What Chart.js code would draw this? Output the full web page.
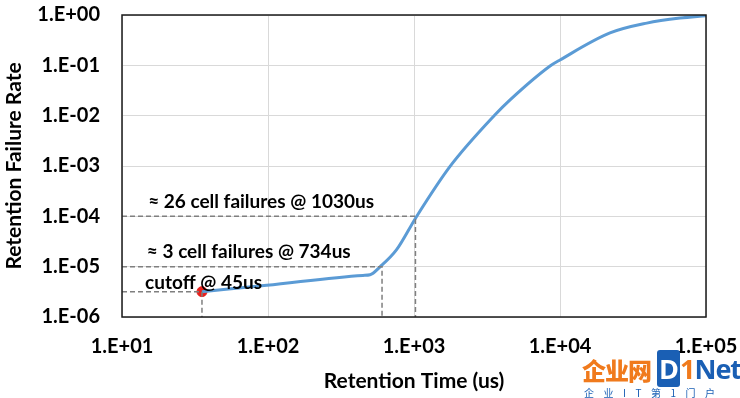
<!DOCTYPE html>
<html>
<head>
<meta charset="utf-8">
<script src="https://cdn.jsdelivr.net/npm/chart.js@4"></script>
<style>
  html, body { margin: 0; padding: 0; background: #fff; }
  #wrap { position: relative; width: 740px; height: 398px; overflow: hidden; }
  canvas { display: block; }
  .wm1 { position: absolute; left: 582px; top: 352px; font: 900 24px "Noto Sans CJK SC"; color: #f07a1c; letter-spacing: -1px; }
  .wm2 { position: absolute; left: 657px; top: 350px; font: bold 27px "Open Sans"; color: #1a5fb4; letter-spacing: -1px; }
  .wm2 .d { background: #1a5fb4; color: #fff; padding: 0 2px; border-radius: 3px; }
  .wm2 .one { color: #f07a1c; }
  .wm3 { position: absolute; left: 584px; top: 385px; font: 10px "Noto Sans CJK SC"; color: #1a5fb4; letter-spacing: 9.5px; }
</style>
</head>
<body>
<div id="wrap">
  <canvas id="c" width="740" height="398"></canvas>
  <div class="wm1">企业网</div>
  <div class="wm2"><span class="d">D</span><span class="one">1</span>Net</div>
  <div class="wm3">企业IT第1门户</div>
</div>
<script>
// ---- data ----
const curveX = [35.3, 98, 447, 500, 585, 760, 1032, 1766, 3590, 4550, 8550, 10000, 22000, 39300, 66400, 100000];
const curveY = [3.19e-6, 4.26e-6, 6.7e-6, 6.9e-6, 9.9e-6, 2.17e-5, 9.5e-5, 9.8e-4, 1.04e-2, 2.06e-2, 0.097, 0.128, 0.44, 0.69, 0.87, 0.97];

const cutoffX = 35.3, cutoffY = 3.19e-6;
const guide1X = [10, 1023, 1023];
const guide1Y = [1e-4, 1e-4, 1e-6];
const guide2X = [10, 604, 604];
const guide2Y = [1e-5, 1e-5, 1e-6];
const guide3X = [10, 35.3, 35.3];
const guide3Y = [3.19e-6, 3.19e-6, 1e-6];

const xTickValues = [10, 100, 1000, 10000, 100000];
const xTickLabels = ['1.E+01', '1.E+02', '1.E+03', '1.E+04', '1.E+05'];
const yTickValues = [1e-6, 1e-5, 1e-4, 1e-3, 1e-2, 1e-1, 1];
const yTickLabels = ['1.E-06', '1.E-05', '1.E-04', '1.E-03', '1.E-02', '1.E-01', '1.E+00'];

const annTexts = ['≈ 26 cell failures @ 1030us', '≈ 3 cell failures @ 734us', 'cutoff @ 45us'];
const annX = [15.1, 14.8, 14.4];
const annY = [1.95e-4, 2.0e-5, 4.8e-6];

const xTitle = 'Retention Time (us)';
const yTitle = 'Retention Failure Rate';

// ---- helpers ----
const pts = (xs, ys) => xs.map((x, i) => ({ x, y: ys[i] }));
const FONT = 'Lato, "Open Sans", sans-serif';
const guideStyle = { borderColor: '#7f7f7f', borderWidth: 1.5, borderDash: [5, 3], pointRadius: 0, fill: false, tension: 0 };

const boxPlugin = {
  id: 'box',
  afterDatasetsDraw(chart) {
    const { ctx, chartArea: a } = chart;
    ctx.save();
    ctx.strokeStyle = '#1a1a1a';
    ctx.lineWidth = 1.5;
    ctx.strokeRect(a.left, a.top, a.right - a.left, a.bottom - a.top);
    ctx.restore();
  }
};

const annPlugin = {
  id: 'ann',
  afterDraw(chart) {
    const { ctx, scales } = chart;
    ctx.save();
    ctx.font = 'bold 19px ' + FONT;
    ctx.fillStyle = '#000';
    ctx.textAlign = 'left';
    ctx.textBaseline = 'middle';
    annTexts.forEach((t, i) => {
      ctx.fillText(t, scales.x.getPixelForValue(annX[i]), scales.y.getPixelForValue(annY[i]));
    });
    ctx.restore();
  }
};

new Chart(document.getElementById('c'), {
  type: 'line',
  data: {
    datasets: [
      { ...guideStyle, data: pts(guide1X, guide1Y) },
      { ...guideStyle, data: pts(guide2X, guide2Y) },
      { ...guideStyle, data: pts(guide3X, guide3Y) },
      { data: pts(curveX, curveY), borderColor: '#5b9bd5', borderWidth: 3, pointRadius: 0, fill: false, cubicInterpolationMode: 'monotone' },
      { type: 'scatter', data: [{ x: cutoffX, y: cutoffY }], backgroundColor: '#e8201c', borderColor: '#e8201c', pointRadius: 5 }
    ]
  },
  options: {
    responsive: false,
    animation: false,
    layout: { padding: { left: 0, right: 34, top: 15, bottom: 0 } },
    plugins: { legend: { display: false }, tooltip: { enabled: false } },
    scales: {
      x: {
        type: 'logarithmic', min: 10, max: 100000,
        afterBuildTicks: s => { s.ticks = xTickValues.map(v => ({ value: v })); },
        afterFit: s => { s.height = 81; s.paddingLeft = 0; s.paddingRight = 0; },
        ticks: { callback: v => xTickLabels[xTickValues.indexOf(v)], color: '#000', font: { family: FONT, size: 20, weight: 'bold' }, padding: 18, maxRotation: 0, autoSkip: false },
        grid: { color: '#d9d9d9', lineWidth: 1, drawTicks: false },
        border: { display: false },
        title: { display: true, text: xTitle, color: '#000', font: { family: FONT, size: 21, weight: 'bold' }, padding: { top: 0, bottom: 4 } }
      },
      y: {
        type: 'logarithmic', min: 1e-6, max: 1,
        afterBuildTicks: s => { s.ticks = yTickValues.map(v => ({ value: v })); },
        afterFit: s => { s.width = 122; s.paddingTop = 0; s.paddingBottom = 0; },
        ticks: { callback: v => yTickLabels[yTickValues.indexOf(v)], color: '#000', font: { family: FONT, size: 20, weight: 'bold' }, padding: 22, autoSkip: false },
        grid: { color: '#d9d9d9', lineWidth: 1, drawTicks: false },
        border: { display: false },
        title: { display: true, text: yTitle, color: '#000', font: { family: FONT, size: 21, weight: 'bold' }, padding: { top: 2, bottom: 0 } }
      }
    }
  },
  plugins: [boxPlugin, annPlugin]
});
</script>
</body>
</html>
